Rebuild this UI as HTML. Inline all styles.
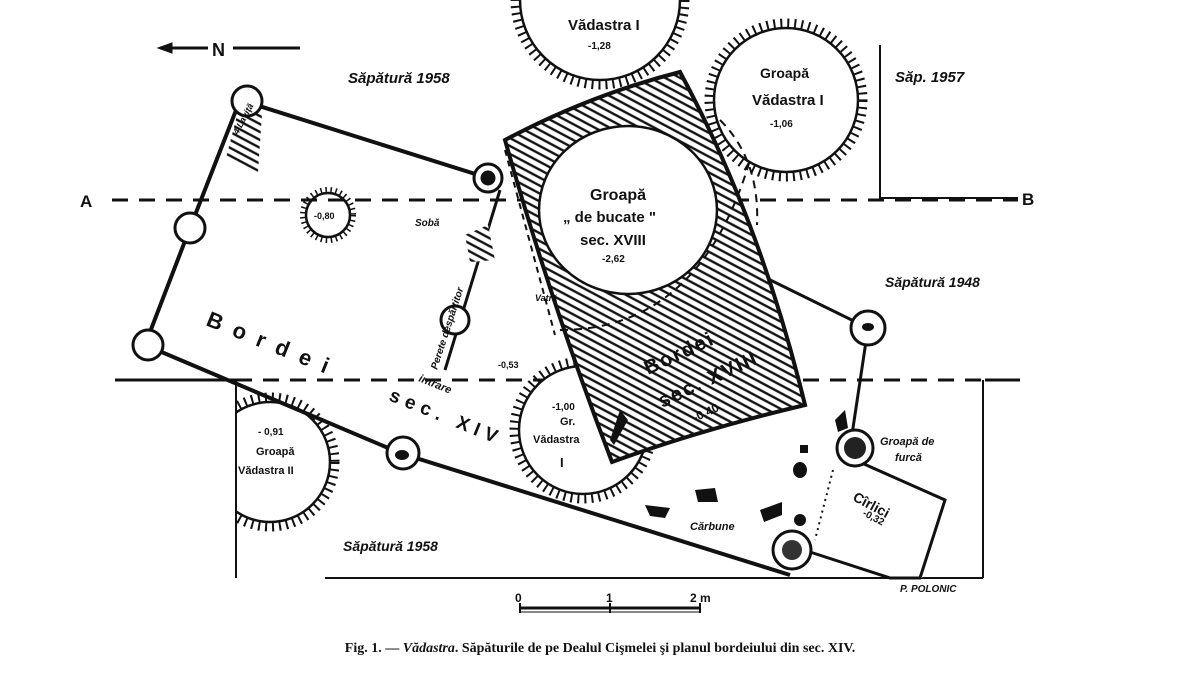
<!DOCTYPE html>
<html><head><meta charset="utf-8"><style>
html,body{margin:0;padding:0;background:#fff;width:1200px;height:681px;overflow:hidden}
svg{display:block}
text{font-family:"Liberation Sans",sans-serif;font-weight:bold;fill:#111}
.it{font-style:italic}
</style></head><body>
<svg width="1200" height="681" viewBox="0 0 1200 681" xmlns="http://www.w3.org/2000/svg">
<defs>
<pattern id="h" width="7" height="7" patternUnits="userSpaceOnUse" patternTransform="rotate(28)">
<rect width="7" height="7" fill="#fff"/><line x1="0" y1="1.5" x2="7" y2="1.5" stroke="#111" stroke-width="2.4"/>
</pattern>
<clipPath id="cl"><rect x="236" y="0" width="1000" height="681"/></clipPath>
</defs>
<g stroke="#111" fill="none">
<line x1="160" y1="48" x2="208" y2="48" stroke-width="3"/>
<polygon points="158,48 172,43 172,53" fill="#111"/>
<line x1="233" y1="48" x2="300" y2="48" stroke-width="3"/>
<line x1="112" y1="200" x2="1018" y2="200" stroke-width="3" stroke-dasharray="16,11"/>
<polyline points="880,45 880,198 1018,198" stroke-width="2"/>
<line x1="115" y1="380" x2="236" y2="380" stroke-width="3"/>
<line x1="236" y1="380" x2="985" y2="380" stroke-width="3" stroke-dasharray="16,11"/>
<line x1="985" y1="380" x2="1020" y2="380" stroke-width="3"/>
<line x1="236" y1="380" x2="236" y2="578" stroke-width="2"/>
<line x1="983" y1="380" x2="983" y2="578" stroke-width="2"/>
<line x1="325" y1="578" x2="983" y2="578" stroke-width="2"/>
<g stroke-width="2.5">
<circle cx="600" cy="0" r="80"/><circle cx="600" cy="0" r="85" stroke-width="9" stroke-dasharray="2,5"/>
<circle cx="786" cy="100" r="72"/><circle cx="786" cy="100" r="77" stroke-width="9" stroke-dasharray="2,5"/>
<circle cx="328" cy="215" r="22"/><circle cx="328" cy="215" r="25" stroke-width="6" stroke-dasharray="1.5,3.5"/>
<circle cx="583" cy="430" r="64" fill="#fff"/><circle cx="583" cy="430" r="69" stroke-width="9" stroke-dasharray="2,5"/>
<g clip-path="url(#cl)"><circle cx="270" cy="462" r="60"/><circle cx="270" cy="462" r="65" stroke-width="9" stroke-dasharray="2,5"/></g>
</g>
<polyline points="240,100 488,178" stroke-width="4"/>
<polyline points="240,100 190,228 145,345 400,453 790,575" stroke-width="4"/>
<polyline points="868,328 760,275" stroke-width="3"/>
<line x1="868" y1="328" x2="850" y2="448" stroke-width="3"/>
<polygon points="240,104 262,114 258,172 226,158" fill="url(#h)" stroke="none"/>
<line x1="500" y1="190" x2="445" y2="370" stroke-width="3"/>
<line x1="505" y1="150" x2="555" y2="335" stroke-width="2" stroke-dasharray="6,5"/>
<polygon points="860,455 945,495 922,578 780,568 790,520" fill="#fff" stroke="none"/>
<polyline points="855,460 945,500 920,578 890,578 810,552" stroke-width="3"/>
<line x1="833" y1="470" x2="815" y2="540" stroke-width="2" stroke-dasharray="2,4"/>
<!-- Bordei XVIII hatched -->
<path d="M505,140 Q590,95 680,72 Q760,220 805,405 Q700,430 612,462 Q550,300 505,140 Z" fill="url(#h)" stroke-width="4"/>
<ellipse cx="628" cy="210" rx="89" ry="84" fill="#fff" stroke-width="2.5"/>
<path d="M560,330 Q700,330 750,160" stroke-width="2" stroke-dasharray="8,6"/>
<path d="M720,120 Q760,160 757,225" stroke-width="2" stroke-dasharray="8,6"/>
<g stroke-width="3" fill="#fff">
<circle cx="247" cy="101" r="15"/><circle cx="190" cy="228" r="15"/><circle cx="148" cy="345" r="15"/>
<circle cx="488" cy="178" r="14"/><circle cx="455" cy="320" r="14"/><circle cx="403" cy="453" r="16"/>
<circle cx="868" cy="328" r="17"/><circle cx="855" cy="448" r="18"/><circle cx="792" cy="550" r="19"/>
</g>
<circle cx="488" cy="178" r="7" fill="#111"/>
<circle cx="855" cy="448" r="11" fill="#222" stroke="none"/>
<circle cx="792" cy="550" r="10" fill="#333" stroke="none"/>
<ellipse cx="402" cy="455" rx="7" ry="5" fill="#111" stroke="none"/>
<ellipse cx="868" cy="327" rx="6" ry="4" fill="#111" stroke="none"/>
<polygon points="465,235 488,225 495,260 470,262" fill="url(#h)" stroke="none"/>
<g fill="#111" stroke="none">
<polygon points="610,440 620,410 628,420 614,445"/>
<rect x="800" y="445" width="8" height="8"/><ellipse cx="800" cy="470" rx="7" ry="8"/>
<ellipse cx="800" cy="520" rx="6" ry="6"/><polygon points="760,510 782,502 782,515 764,522"/>
<polygon points="645,505 670,508 665,518 650,516"/><polygon points="695,490 715,488 718,502 698,502"/>
<polygon points="835,420 845,410 848,428 838,432"/>
</g>
<line x1="520" y1="608" x2="700" y2="608" stroke-width="3"/>
<line x1="520" y1="612" x2="700" y2="612" stroke-width="1"/>
<line x1="520" y1="603" x2="520" y2="613" stroke-width="2"/>
<line x1="610" y1="603" x2="610" y2="613" stroke-width="2"/>
<line x1="700" y1="603" x2="700" y2="613" stroke-width="2"/>
</g>
<text x="212" y="56" font-size="18">N</text>
<text x="348" y="83" font-size="15" class="it">Săpătură 1958</text>
<text x="568" y="30" font-size="15" font-weight="normal">Vădastra I</text>
<text x="588" y="49" font-size="10">-1,28</text>
<text x="760" y="78" font-size="14">Groapă</text>
<text x="752" y="105" font-size="15">Vădastra I</text>
<text x="770" y="127" font-size="10">-1,06</text>
<text x="895" y="82" font-size="15" class="it">Săp. 1957</text>
<text x="80" y="207" font-size="17">A</text>
<text x="1022" y="205" font-size="17">B</text>
<text x="314" y="219" font-size="9">-0,80</text>
<text x="590" y="200" font-size="16">Groapă</text>
<text x="563" y="222" font-size="15">„ de bucate "</text>
<text x="580" y="245" font-size="15">sec. XVIII</text>
<text x="602" y="262" font-size="10">-2,62</text>
<text x="415" y="226" font-size="10" class="it">Sobă</text>
<text x="535" y="301" font-size="9" class="it">Vatră</text>
<text x="0" y="0" font-size="10" class="it" transform="translate(437,370) rotate(-72)">Perete despărţitor</text>
<text x="0" y="0" font-size="9" class="it" transform="translate(238,135) rotate(-62)">4 Laviţă</text>
<text x="885" y="287" font-size="14" class="it">Săpătură 1948</text>
<text x="0" y="0" font-size="22" letter-spacing="12" transform="translate(205,325) rotate(22)">Bordei</text>
<text x="0" y="0" font-size="19" letter-spacing="6" transform="translate(388,400) rotate(22)">sec. XIV</text>
<text x="0" y="0" font-size="11" class="it" transform="translate(418,381) rotate(22)">intrare</text>
<text x="498" y="368" font-size="9">-0,53</text>
<text x="0" y="0" font-size="20" letter-spacing="2" transform="translate(648,375) rotate(-25)">Bordei</text>
<text x="0" y="0" font-size="20" letter-spacing="2" transform="translate(662,408) rotate(-25)">sec. XVIII</text>
<text x="0" y="0" font-size="12" transform="translate(695,422) rotate(-25)">-0,40</text>
<text x="552" y="410" font-size="10">-1,00</text>
<text x="560" y="425" font-size="11">Gr.</text>
<text x="533" y="443" font-size="11">Vădastra</text>
<text x="560" y="467" font-size="13">I</text>
<text x="258" y="435" font-size="10">- 0,91</text>
<text x="256" y="455" font-size="11">Groapă</text>
<text x="238" y="474" font-size="11">Vădastra II</text>
<text x="343" y="551" font-size="14" class="it">Săpătură 1958</text>
<text x="880" y="445" font-size="11" class="it">Groapă de</text>
<text x="895" y="461" font-size="11" class="it">furcă</text>
<text x="0" y="0" font-size="14" transform="translate(852,500) rotate(28)">Cîrlici</text>
<text x="0" y="0" font-size="10" transform="translate(862,515) rotate(28)">-0,32</text>
<text x="690" y="530" font-size="11" class="it">Cărbune</text>
<text x="900" y="592" font-size="10" class="it">P. POLONIC</text>
<text x="515" y="602" font-size="12">0</text>
<text x="606" y="602" font-size="12">1</text>
<text x="690" y="602" font-size="12">2 m</text>
<text x="600" y="652" font-size="14" text-anchor="middle" style="font-family:'Liberation Serif',serif">Fig. 1. — <tspan font-style="italic">Vădastra</tspan>. Săpăturile de pe Dealul Cişmelei şi planul bordeiului din sec. XIV.</text>
</svg>
</body></html>
